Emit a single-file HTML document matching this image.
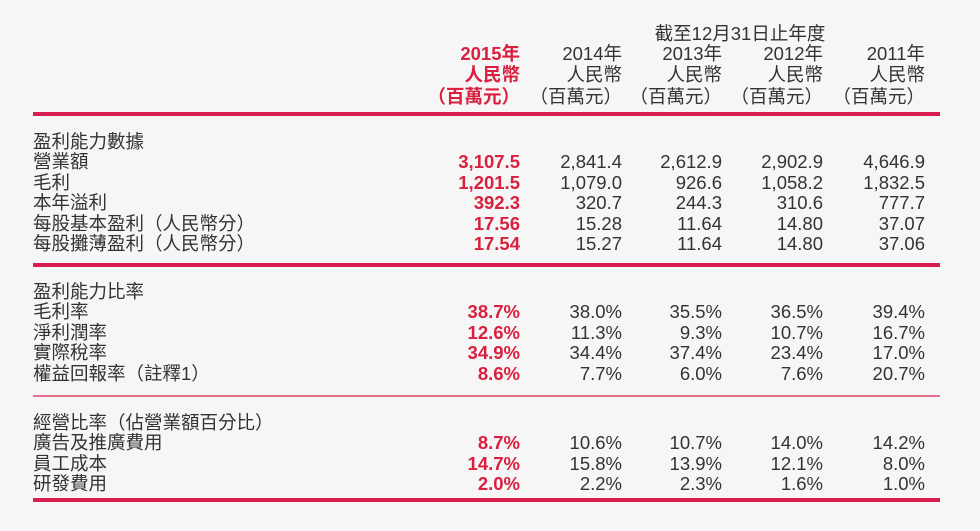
<!DOCTYPE html>
<html><head><meta charset="utf-8">
<style>
html,body{margin:0;padding:0}
body{width:980px;height:531px;position:relative;overflow:hidden;background:#f6f6f6;
font-family:"Liberation Sans","Noto Sans CJK TC",sans-serif;color:#333;}
.t{position:absolute;font-size:18.5px;line-height:20px;white-space:nowrap}
.r{text-align:right}
.red{color:#d9203f;font-weight:bold}
.rule{position:absolute;left:33px;width:907px;background:#d81e4e}
</style></head>
<body>
<div class="t" style="left:580px;top:24px;width:320px;text-align:center">截至12月31日止年度</div>
<div class="rule" style="top:112px;height:4px"></div>
<div class="rule" style="top:263px;height:4px"></div>
<div class="rule" style="top:395px;height:2px;background:#e7708e"></div>
<div class="rule" style="top:498px;height:4px"></div>
<script>
const years = ["2015年","2014年","2013年","2012年","2011年"];
const sec1Title = "盈利能力數據";
const sec1Labels = ["營業額","毛利","本年溢利","每股基本盈利（人民幣分）","每股攤薄盈利（人民幣分）"];
const sec1Values = [
 ["3,107.5","2,841.4","2,612.9","2,902.9","4,646.9"],
 ["1,201.5","1,079.0","926.6","1,058.2","1,832.5"],
 ["392.3","320.7","244.3","310.6","777.7"],
 ["17.56","15.28","11.64","14.80","37.07"],
 ["17.54","15.27","11.64","14.80","37.06"]];
const sec2Title = "盈利能力比率";
const sec2Labels = ["毛利率","淨利潤率","實際稅率","權益回報率（註釋1）"];
const sec2Values = [
 ["38.7%","38.0%","35.5%","36.5%","39.4%"],
 ["12.6%","11.3%","9.3%","10.7%","16.7%"],
 ["34.9%","34.4%","37.4%","23.4%","17.0%"],
 ["8.6%","7.7%","6.0%","7.6%","20.7%"]];
const sec3Title = "經營比率（佔營業額百分比）";
const sec3Labels = ["廣告及推廣費用","員工成本","研發費用"];
const sec3Values = [
 ["8.7%","10.6%","10.7%","14.0%","14.2%"],
 ["14.7%","15.8%","13.9%","12.1%","8.0%"],
 ["2.0%","2.2%","2.3%","1.6%","1.0%"]];

const colRight = [520,622,722,823,925];
function txt(s, x, y, cls, right, name){
  const d=document.createElement('div');
  d.className='t'+(cls?' '+cls:'')+(right?' r':'');
  d.textContent=s;
  if(right){d.style.left=(x-200)+'px';d.style.width='200px';}
  else d.style.left=x+'px';
  d.style.top=y+'px';
  
  
  document.body.appendChild(d);
}
years.forEach((y,i)=>{
  const c=i===0?'red':'';
  txt(y,colRight[i],44,c,true,'year-header');
  txt('人民幣',colRight[i],65,c,true,'currency-header');
  txt('（百萬元）',colRight[i],87,c,true,'unit-header');
});
function section(title,labels,values,top){
  txt(title,33,top,'',false,'section-title');
  labels.forEach((l,r)=>{
    const y=top+20.4*(r+1);
    txt(l,33,y,'',false,'row-label');
    values[r].forEach((v,i)=>txt(v,colRight[i],y,i===0?'red':'',true,'cell-value'));
  });
}
section(sec1Title,sec1Labels,sec1Values,132);
section(sec2Title,sec2Labels,sec2Values,282);
section(sec3Title,sec3Labels,sec3Values,413);
</script>
</body></html>
